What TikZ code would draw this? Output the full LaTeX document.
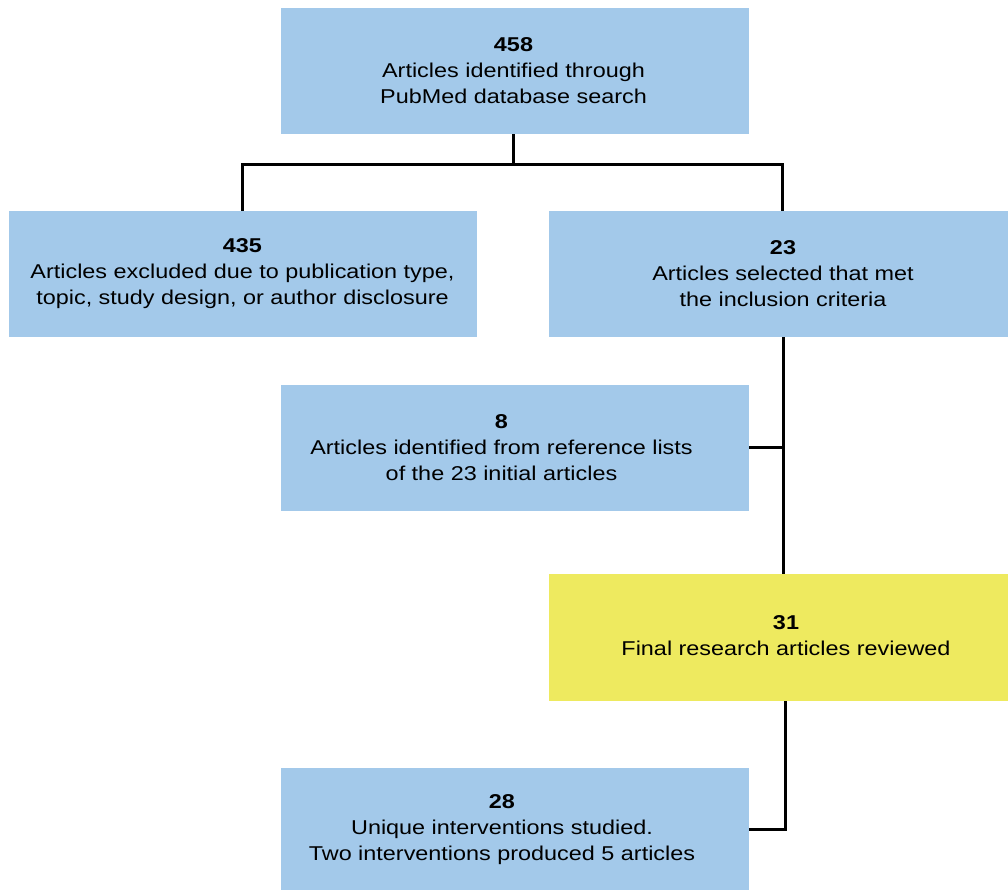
\documentclass[tikz,border=0pt]{standalone}
\usepackage{fontspec}
\setmainfont{Liberation Sans}[FakeStretch=1.17]
\definecolor{boxblue}{RGB}{163,201,234}
\definecolor{boxyellow}{RGB}{238,234,95}
\begin{document}
\begin{tikzpicture}[x=0.75pt,y=-0.75pt,
  box/.style={fill=boxblue, draw=none, inner sep=0pt, minimum height=94.5pt},
  wide/.style={minimum width=351pt},
  narrow/.style={minimum width=344.25pt},
  txt/.style={align=center, inner sep=0pt, font=\fontsize{15}{19.5}\selectfont},
  conn/.style={line width=2.25pt, black}]
\useasboundingbox (0,0) rectangle (1008,890);
\node[box, wide] (top) at (515,71) {};
\node[box, wide] (left) at (243,274) {};
\node[box, narrow] (right) at (778.5,274) {};
\node[box, wide] (middle) at (515,447.5) {};
\node[box, narrow, fill=boxyellow, minimum height=95.25pt] (final) at (778.5,637.5) {};
\node[box, wide, minimum height=92.25pt] (bottom) at (515,829.5) {};
\node[txt] (topt) at (513.5,71) {\textbf{458}\\Articles identified through\\PubMed database search};
\node[txt] (leftt) at (242.5,274) {\textbf{435}\\Articles excluded due to publication type,\\topic, study design, or author disclosure};
\node[txt] (rightt) at (783,274) {\textbf{23}\\Articles selected that met\\the inclusion criteria};
\node[txt] (middlet) at (501.5,447.5) {\textbf{8}\\Articles identified from reference lists\\of the 23 initial articles};
\node[txt] (finalt) at (786,636) {\textbf{31}\\Final research articles reviewed};
\node[txt] (bottomt) at (502,829.5) {\textbf{28}\\Unique interventions studied.\\Two interventions produced 5 articles};
\coordinate (split) at (513,164);
\draw[conn] (513,0 |- top.south) -- (split);
\draw[conn] (242,0 |- left.north) |- (782,164) -- (782,0 |- right.north);
\draw[conn] (783,0 |- right.south) -- (783,0 |- final.north);
\draw[conn] (middle.east) -- (783,0 |- middle.east);
\draw[conn] (785,0 |- final.south) |- (bottom.east);
\end{tikzpicture}
\end{document}
